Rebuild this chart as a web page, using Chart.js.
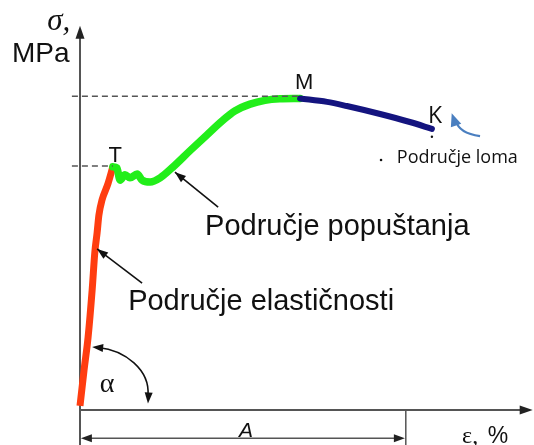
<!DOCTYPE html>
<html>
<head>
<meta charset="utf-8">
<script src="https://cdn.jsdelivr.net/npm/chart.js@4.4.0/dist/chart.umd.min.js"></script>
<style>
  html, body { margin: 0; padding: 0; background: #fff; }
  canvas { display: block; }
</style>
</head>
<body>
<canvas id="myChart" width="534" height="445"></canvas>
<script>
// strain (x) and stress (y), 0-100 scale
const elasticX = [0, 0.9, 1.8, 2.7, 3.3, 3.8, 4.2, 4.9, 6.2, 7.3];
const elasticY = [0.3, 9.7, 18.4, 30.8, 40.8, 45.8, 50.5, 54.5, 58.7, 63.2];

const yieldX = [7.3, 8.2, 8.9, 10.0, 11.1, 12.7, 13.8, 15.6, 17.8, 20.7, 24.4, 28.2, 31.6, 34.4, 37.8, 41.1, 44.4, 48.9];
const yieldY = [63.2, 62.9, 59.7, 61.1, 60.3, 61.3, 59.7, 59.2, 60.3, 63.2, 67.4, 71.6, 75.3, 77.9, 79.7, 80.7, 81.1, 81.2];

const fractureX = [48.9, 54.9, 59.3, 66.7, 73.3, 78.2];
const fractureY = [81.2, 80.3, 79.2, 77.1, 75.0, 73.2];

// dashed helper lines to T (yield point) and M (max stress)
const yieldLevel = 63.4;
const maxLevel = 81.8;

function pts(xs, ys) {
    return xs.map((x, i) => ({x: x, y: ys[i]}));
}

function arrowHead(ctx, x, y, ang, len, wid) {
    ctx.beginPath();
    ctx.moveTo(x, y);
    ctx.lineTo(x - len * Math.cos(ang) + wid / 2 * Math.sin(ang), y - len * Math.sin(ang) - wid / 2 * Math.cos(ang));
    ctx.lineTo(x - len * Math.cos(ang) - wid / 2 * Math.sin(ang), y - len * Math.sin(ang) + wid / 2 * Math.cos(ang));
    ctx.closePath();
    ctx.fill();
}

const axesPlugin = {
    id: 'axes',
    beforeDatasetsDraw(chart) {
        const ctx = chart.ctx;
        const X = v => chart.scales.x.getPixelForValue(v);
        const Y = v => chart.scales.y.getPixelForValue(v);
        ctx.save();
        ctx.strokeStyle = '#555';
        ctx.fillStyle = '#222';
        ctx.lineWidth = 2;
        // y axis
        ctx.beginPath();
        ctx.moveTo(X(0), Y(-10));
        ctx.lineTo(X(0), Y(98));
        ctx.stroke();
        arrowHead(ctx, X(0), Y(100.3), -Math.PI / 2, 13, 9);
        // x axis
        ctx.beginPath();
        ctx.moveTo(X(0), Y(-0.8));
        ctx.lineTo(X(98.5), Y(-0.8));
        ctx.stroke();
        arrowHead(ctx, X(100.6), Y(-0.8), 0, 13, 9);
        // elongation A dimension
        ctx.lineWidth = 1.5;
        ctx.beginPath();
        ctx.moveTo(X(72.4), Y(-0.8));
        ctx.lineTo(X(72.4), Y(-10));
        ctx.moveTo(X(1), Y(-8.2));
        ctx.lineTo(X(71.5), Y(-8.2));
        ctx.stroke();
        arrowHead(ctx, X(0.2), Y(-8.2), Math.PI, 11, 8);
        arrowHead(ctx, X(72.2), Y(-8.2), 0, 11, 8);
        ctx.restore();
    },
    afterDatasetsDraw(chart) {
        const ctx = chart.ctx;
        const X = v => chart.scales.x.getPixelForValue(v);
        const Y = v => chart.scales.y.getPixelForValue(v);
        ctx.save();
        ctx.fillStyle = '#111';
        ctx.strokeStyle = '#111';
        ctx.textBaseline = 'alphabetic';

        function text(str, x, y, font, align) {
            ctx.font = font;
            ctx.textAlign = align || 'left';
            ctx.fillText(str, X(x), Y(y));
        }
        text('σ,', -7.3, 99.2, 'italic 31px "Liberation Serif"');
        text('MPa', -15.1, 90.8, '28px "Liberation Sans"');
        text('T', 7.8, 64.5, '22px "Liberation Sans"', 'center');
        text('M', 49.8, 83.7, '22px "Liberation Sans"', 'center');
        text('K', 78.9, 74.7, '23px "Open Sans"', 'center');
        text('Područje popuštanja', 27.8, 45.3, '29px "Liberation Sans"');
        text('Područje elastičnosti', 10.7, 25.5, '29px "Liberation Sans"');
        text('Područje loma', 70.4, 64.2, '18px "Open Sans"');
        text('A', 36.9, -7.9, 'italic 21px "Liberation Sans"', 'center');
        text('ε,', 84.9, -9.5, '24px "Liberation Serif"');
        text('%', 90.6, -9.5, '23px "Liberation Sans"');
        text('α', 4.4, 3.9, '28px "Liberation Serif"');

        // small marks
        ctx.beginPath();
        ctx.arc(X(66.9), Y(65.0), 1.3, 0, Math.PI * 2);
        ctx.fill();
        ctx.beginPath();
        ctx.arc(X(78.2), Y(71.1), 1.2, 0, Math.PI * 2);
        ctx.fill();

        // pointers
        ctx.lineWidth = 1.6;
        function pointer(x0, y0, x1, y1) {
            ctx.beginPath();
            ctx.moveTo(X(x0), Y(y0));
            ctx.lineTo(X(x1), Y(y1));
            ctx.stroke();
            const ang = Math.atan2(Y(y1) - Y(y0), X(x1) - X(x0));
            arrowHead(ctx, X(x1), Y(y1), ang, 11, 8);
        }
        pointer(30.7, 52.6, 21.1, 61.8);
        pointer(13.8, 32.6, 3.8, 41.6);

        // angle alpha
        const a0 = [X(2.7), Y(15.8)], c1 = [X(10.0), Y(15.0)], c2 = [X(15.6), Y(9.7)], a1 = [X(15.1), Y(0.9)];
        ctx.beginPath();
        ctx.moveTo(a0[0] + 6, a0[1] + 0.5);
        ctx.bezierCurveTo(c1[0], c1[1], c2[0], c2[1], a1[0], a1[1] - 8);
        ctx.stroke();
        arrowHead(ctx, a0[0], a0[1], Math.atan2(a0[1] - c1[1], a0[0] - c1[0]), 11, 8);
        arrowHead(ctx, a1[0], a1[1], Math.atan2(a1[1] - c2[1], a1[0] - c2[0]), 11, 8);

        // blue curved arrow near K
        ctx.strokeStyle = '#4a7fc0';
        ctx.fillStyle = '#4a7fc0';
        ctx.lineWidth = 2.2;
        const b0 = [X(88.9), Y(71.3)], bc = [X(84.2), Y(72.0)], b1 = [X(82.6), Y(77.3)];
        ctx.beginPath();
        ctx.moveTo(b0[0], b0[1]);
        ctx.quadraticCurveTo(bc[0], bc[1], b1[0] + 4, b1[1] + 7);
        ctx.stroke();
        arrowHead(ctx, b1[0], b1[1], Math.atan2(b1[1] - bc[1], b1[0] - bc[0]), 13, 11);
        ctx.restore();
    }
};

const ctx = document.getElementById('myChart').getContext('2d');
const myChart = new Chart(ctx, {
    type: 'line',
    data: {
        datasets: [
            {
                label: 'M level',
                data: pts([-1.8, 48.9], [maxLevel, maxLevel]),
                borderColor: '#555',
                borderWidth: 1.5,
                borderDash: [6, 4],
                pointRadius: 0,
                clip: false
            },
            {
                label: 'T level',
                data: pts([-1.8, 7.3], [yieldLevel, yieldLevel]),
                borderColor: '#555',
                borderWidth: 1.5,
                borderDash: [6, 4],
                pointRadius: 0,
                clip: false
            },
            {
                label: 'Fracture',
                data: pts(fractureX, fractureY),
                borderColor: '#14147f',
                borderWidth: 6,
                cubicInterpolationMode: 'monotone',
                pointRadius: 0,
                borderCapStyle: 'round',
                clip: false
            },
            {
                label: 'Yield',
                data: pts(yieldX, yieldY),
                borderColor: '#22ee1a',
                borderWidth: 7.5,
                cubicInterpolationMode: 'monotone',
                pointRadius: 0,
                borderCapStyle: 'round',
                borderJoinStyle: 'round',
                clip: false
            },
            {
                label: 'Elastic',
                data: pts(elasticX, elasticY),
                borderColor: '#ff3d10',
                borderWidth: 7,
                cubicInterpolationMode: 'monotone',
                pointRadius: 0,
                borderJoinStyle: 'round',
                clip: false
            }
        ]
    },
    options: {
        responsive: false,
        animation: false,
        layout: {
            padding: {left: 80, right: 4, top: 27, bottom: 38}
        },
        plugins: {
            legend: {display: false},
            tooltip: {enabled: false}
        },
        scales: {
            x: {type: 'linear', min: 0, max: 100, display: false},
            y: {type: 'linear', min: 0, max: 100, display: false}
        }
    },
    plugins: [axesPlugin]
});
</script>
</body>
</html>
